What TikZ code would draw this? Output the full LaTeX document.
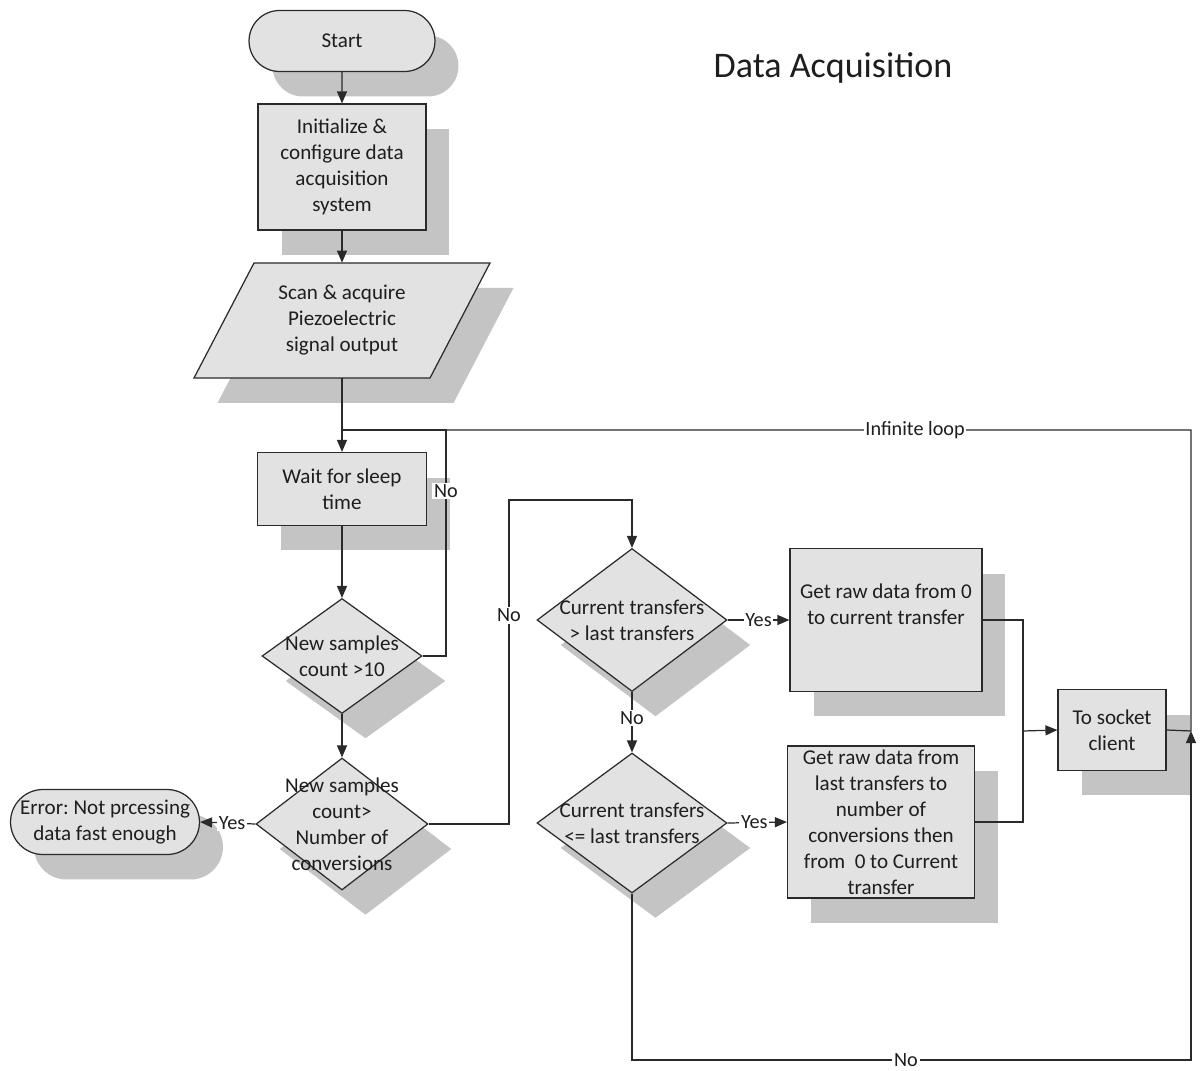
\documentclass[tikz,border=0pt]{standalone}
\usepackage{fontspec}
\setmainfont{Carlito}
\frenchspacing
\usetikzlibrary{shapes.geometric,shapes.misc,arrows.meta,shadows}
\definecolor{ln}{HTML}{2A2A2A}
\definecolor{bx}{HTML}{E2E2E2}
\definecolor{sh}{HTML}{C4C4C4}
\definecolor{tx}{HTML}{1E1E1E}
\tikzset{
  shd/.style={drop shadow={shadow xshift=0.47cm,shadow yshift=-0.5cm,opacity=1,fill=sh}},
  base/.style={draw=ln,line width=0.7pt,fill=bx,shd,text=tx,align=center,inner sep=2pt,
    font=\fontsize{12}{14.8}\selectfont},
  procbox/.style={base,rectangle},
  termbox/.style={base,rounded rectangle},
  decbox/.style={base,diamond,inner sep=0pt},
  txt/.style={text=tx,align=center,font=\fontsize{12}{14.8}\selectfont,inner sep=0pt},
  lbl/.style={fill=white,text=tx,inner sep=1pt,font=\fontsize{11.5}{13}\selectfont},
  conn/.style={draw=ln,line width=0.7pt},
  arr/.style={conn,-{Triangle[length=0.24cm,width=0.2cm]}},
}
\begin{document}
\begin{tikzpicture}[x=0.02cm,y=-0.02cm]
\useasboundingbox[fill=white] (0,0) rectangle (1200,1071);

\node[txt,font=\fontsize{20.5}{24}\selectfont] (title) at (833,68) {Data Acquisition};

\node[termbox,minimum width=3.86cm,minimum height=1.22cm] (start) at (342,41) {Start};
\node[procbox,minimum width=3.36cm,minimum height=2.52cm] (init) at (342,167)
  {Initialize \&\\configure data\\acquisition\\system};
\path[draw=ln,line width=0.7pt,fill=bx,shd] (194,378) -- (254,263) -- (490,263) -- (430,378) -- cycle;
\node[txt,minimum width=3cm,minimum height=2.3cm] (scan) at (342,320.5)
  {Scan \& acquire\\Piezoelectric\\signal output};
\node[procbox,minimum width=3.38cm,minimum height=1.46cm] (wait) at (342,489)
  {Wait for sleep\\time};

\node[decbox,minimum width=3.2cm,minimum height=2.3cm] (d1) at (342,656) {};
\node[txt] at (d1) {New samples\\count >10};

\node[decbox,minimum width=3.44cm,minimum height=2.64cm] (d2) at (342,824) {};
\node[txt] at (d2) {New samples\\count>\\Number of\\conversions};

\node[termbox,minimum width=3.92cm,minimum height=1.3cm] (err) at (105,822)
  {Error: Not prcessing\\data fast enough};

\node[decbox,minimum width=3.8cm,minimum height=2.86cm] (d3) at (632,620) {};
\node[txt] at (d3) {Current transfers\\> last transfers};

\node[decbox,minimum width=3.8cm,minimum height=2.8cm] (d4) at (632,823) {};
\node[txt] at (d4) {Current transfers\\<= last transfers};

\node[procbox,minimum width=3.84cm,minimum height=2.86cm] (b1) at (886,620)
  {Get raw data from 0\\to current transfer\\[0.3em]};
\node[procbox,minimum width=3.74cm,minimum height=3cm] (b2) at (881,822)
  {Get raw data from\\last transfers to\\number of\\conversions then\\from\ \ 0 to Current\\transfer};

\node[procbox,minimum width=2.16cm,minimum height=1.62cm] (sock) at (1112,730)
  {To socket\\client};

\coordinate (j1) at (342,430);
\coordinate (nx) at (446,430);
\coordinate (c1) at (509,500);
\coordinate (c2) at (1023,731);
\coordinate (c3) at (1191,731);
\coordinate (c4) at (1191,430);
\coordinate (c5) at (1191,1060);

\draw[arr] (start) -- (init);
\draw[arr] (init) -- (scan);
\draw[arr] (scan.south) -- (wait.north);
\draw[arr] (wait) -- (d1);
\draw[conn] (d1.east) -| node[lbl,pos=0.865]{No} (nx) -- (j1);
\draw[arr] (d1.south) -- (d2.north);
\draw[arr] (d2.west) -- node[lbl,pos=0.42]{Yes} (err.east);
\draw[arr] (d2.east) -| node[lbl,pos=0.822]{No} (c1) -| (d3.north);
\draw[arr] (d3.east) -- node[lbl,pos=0.5]{Yes} (b1.west);
\draw[arr] (d3.south) -- node[lbl,pos=0.43]{No} (d4.north);
\draw[arr] (d4.east) -- node[lbl,pos=0.45]{Yes} (b2.west);
\draw[conn] (b1.east) -| (c2);
\draw[conn] (b2.east) -| (c2);
\draw[arr] (c2) -- (sock.west);
\draw[conn] (sock.east) -- (c3) -- (c4) -- node[lbl,pos=0.325]{Infinite loop} (j1);
\draw[arr] (d4.south) |- node[lbl,pos=0.745]{No} (c5) -- (c3);
\end{tikzpicture}
\end{document}
